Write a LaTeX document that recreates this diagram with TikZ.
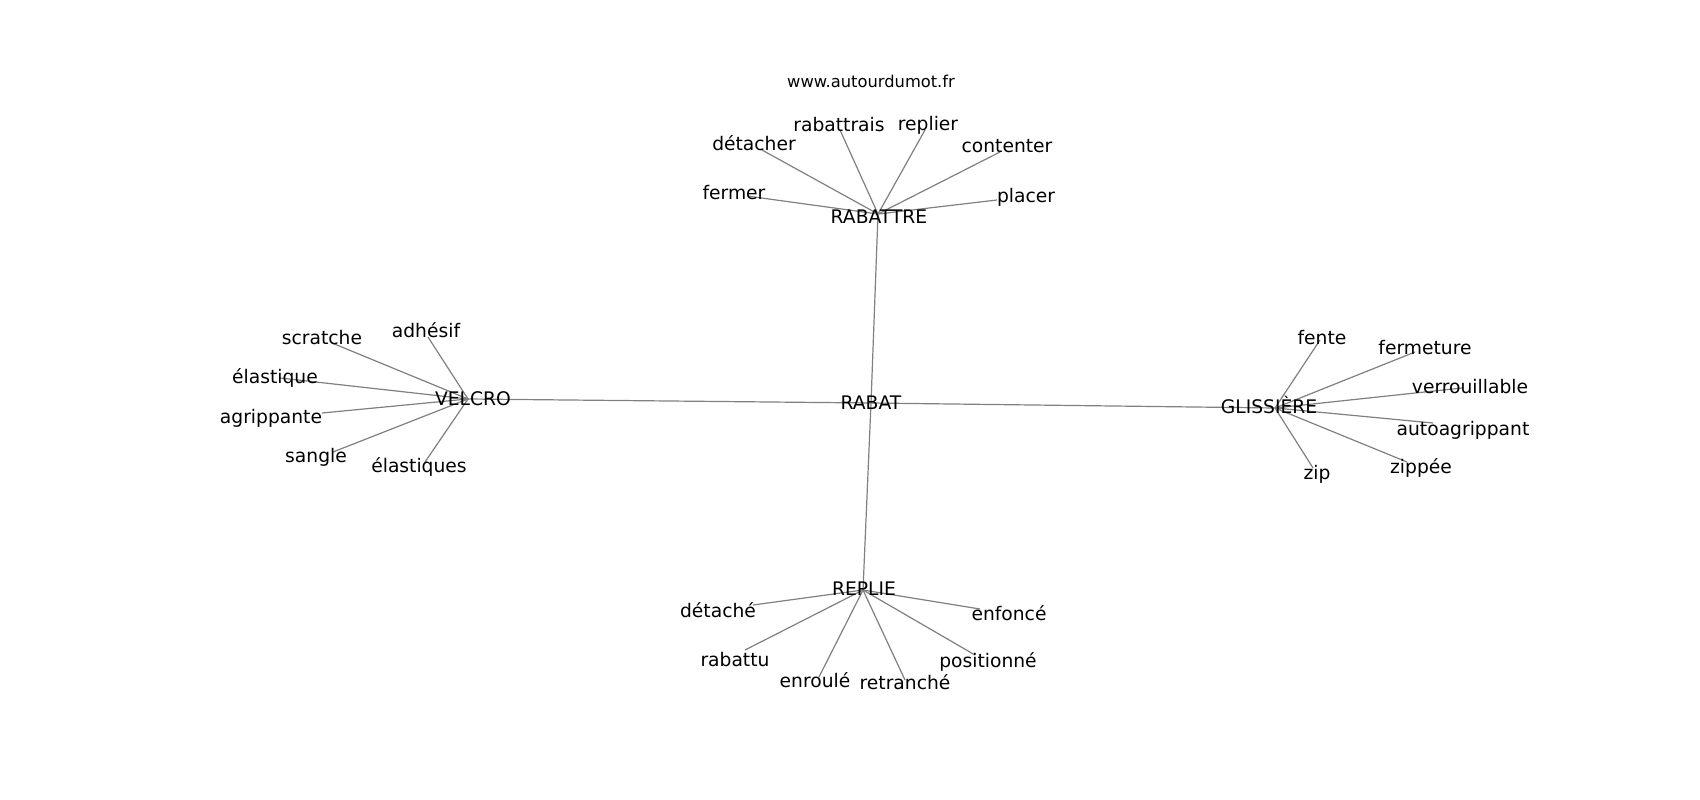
\documentclass[tikz,border=0pt]{standalone}
\usepackage{fontspec}
\setmainfont{DejaVu Sans}
\begin{document}
\begin{tikzpicture}[x=1pt,y=-1pt,
  edge/.style={draw=black!50,line width=1.2pt},
  word/.style={inner sep=0pt,anchor=base,font=\fontsize{18.7}{22}\selectfont},
  credit/.style={inner sep=0pt,anchor=base,font=\fontsize{16.3}{19}\selectfont}]
\fill[white] (0,0) rectangle (1700,800);
\useasboundingbox (0,0) rectangle (1700,800);
% edge end points
\coordinate (c-rabat) at (871,403);
\coordinate (c-rabattre) at (878,214);
\coordinate (c-velcro) at (468,399);
\coordinate (c-gliss) at (1275,408);
\coordinate (c-replie) at (863,590);
\coordinate (c-rabattrais) at (840,130);
\coordinate (c-replier) at (925,130);
\coordinate (c-detacher) at (762,150);
\coordinate (c-contenter) at (1000,152);
\coordinate (c-fermer) at (747,196);
\coordinate (c-placer) at (997,200);
\coordinate (c-adhesif) at (428,337);
\coordinate (c-scratche) at (332,343);
\coordinate (c-elastique) at (280,378);
\coordinate (c-agrippante) at (322,413);
\coordinate (c-sangle) at (333,452);
\coordinate (c-elastiques) at (425,462);
\coordinate (c-fente) at (1320,340);
\coordinate (c-fermeture) at (1415,352);
\coordinate (c-verrouillable) at (1462,388);
\coordinate (c-autoagrippant) at (1433,423);
\coordinate (c-zippee) at (1407,462);
\coordinate (c-zip) at (1313,468);
\coordinate (c-detache) at (753,605);
\coordinate (c-enfonce) at (980,609);
\coordinate (c-rabattu) at (745,650);
\coordinate (c-enroule) at (819,677);
\coordinate (c-retranche) at (905,680);
\coordinate (c-positionne) at (975,655);
% edges
\foreach \a/\b in {rabat/rabattre,rabat/velcro,rabat/gliss,rabat/replie,
  rabattre/rabattrais,rabattre/replier,rabattre/detacher,rabattre/contenter,rabattre/fermer,rabattre/placer,
  velcro/adhesif,velcro/scratche,velcro/elastique,velcro/agrippante,velcro/sangle,velcro/elastiques,
  gliss/fente,gliss/fermeture,gliss/verrouillable,gliss/autoagrippant,gliss/zippee,gliss/zip,
  replie/detache,replie/enfonce,replie/rabattu,replie/enroule,replie/retranche,replie/positionne}
  \draw[edge] (c-\a) -- (c-\b);
% labels
\node[credit] (l-www) at (871,88) {www.autourdumot.fr};
\node[word] (l-rabat) at (871,409) {RABAT};
\node[word] (l-rabattre) at (879,223) {RABATTRE};
\node[word] (l-velcro) at (473,405) {VELCRO};
\node[word] (l-gliss) at (1269,413) {GLISSIÈRE};
\node[word] (l-replie) at (864,595) {REPLIE};
\node[word] (l-rabattrais) at (839,131) {rabattrais};
\node[word] (l-replier) at (928,130) {replier};
\node[word] (l-detacher) at (754,150) {détacher};
\node[word] (l-contenter) at (1007,152) {contenter};
\node[word] (l-fermer) at (734,199) {fermer};
\node[word] (l-placer) at (1026,202) {placer};
\node[word] (l-adhesif) at (426,337) {adhésif};
\node[word] (l-scratche) at (322,344) {scratche};
\node[word] (l-elastique) at (275,383) {élastique};
\node[word] (l-agrippante) at (271,423) {agrippante};
\node[word] (l-sangle) at (316,462) {sangle};
\node[word] (l-elastiques) at (419,472) {élastiques};
\node[word] (l-fente) at (1322,344) {fente};
\node[word] (l-fermeture) at (1425,354) {fermeture};
\node[word] (l-verrouillable) at (1470,393) {verrouillable};
\node[word] (l-autoagrippant) at (1463,435) {autoagrippant};
\node[word] (l-zippee) at (1421,473) {zippée};
\node[word] (l-zip) at (1317,479) {zip};
\node[word] (l-detache) at (718,617) {détaché};
\node[word] (l-enfonce) at (1009,620) {enfoncé};
\node[word] (l-rabattu) at (735,666) {rabattu};
\node[word] (l-enroule) at (815,687) {enroulé};
\node[word] (l-retranche) at (905,689) {retranché};
\node[word] (l-positionne) at (988,667) {positionné};
\end{tikzpicture}
\end{document}
